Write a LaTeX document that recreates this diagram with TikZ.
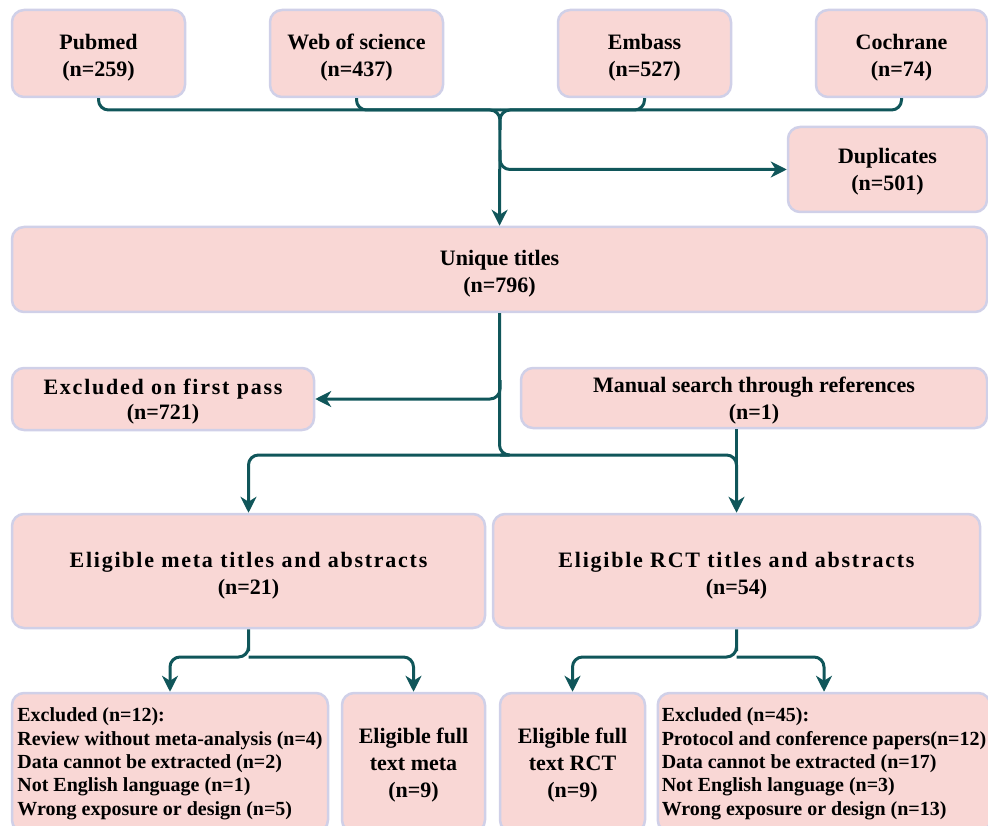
\documentclass[tikz,border=0pt]{standalone}
\usepackage{fontspec}
\setmainfont{Liberation Serif}
\newfontfamily\spacedfont{Liberation Serif}[LetterSpace=8]
\usepackage{tikz}
\usetikzlibrary{arrows.meta}
\definecolor{boxfill}{RGB}{249,215,213}
\definecolor{boxline}{RGB}{208,208,232}
\definecolor{flowline}{RGB}{16,86,90}
\newcommand{\toplift}{\rule{0pt}{19.5pt}}
\tikzstyle{pink box}=[
        draw = boxline,
        line width = 2.5pt,
        fill = boxfill,
        rounded corners = 12pt,
        align = center,
        inner sep = 3pt,
        text depth = 0pt,
        font = \fontsize{22}{27}\selectfont\bfseries
    ]
\tikzstyle{list box}=[
    pink box,
    align = left,
    inner xsep = 4pt,
    text depth = 2pt,
    font = \fontsize{20}{23.4}\selectfont\bfseries
]
\tikzstyle{flow}=[
    draw = flowline,
    line width = 3pt,
    rounded corners = 10pt
]

\begin{document}
\begin{tikzpicture}[x=1pt, y=-1pt, arrow/.style = {flow, -{Stealth[length=16pt,width=16pt,inset=5pt]}}]
        \useasboundingbox (0,0) rectangle (988,826);
        \node[pink box, minimum width=173pt, minimum height=87pt] (pubmed) at (98.5,53.5) {\toplift Pubmed\\(n=259)};
        \node[pink box, minimum width=173pt, minimum height=87pt] (wos) at (356.5,53.5) {\toplift Web of science\\(n=437)};
        \node[pink box, minimum width=173pt, minimum height=87pt] (embass) at (644.5,53.5) {\toplift Embass\\(n=527)};
        \node[pink box, minimum width=171pt, minimum height=87pt] (cochrane) at (901.5,53.5) {\toplift Cochrane\\(n=74)};
        \node[pink box, minimum width=199pt, minimum height=85pt] (dup) at (887.5,169.5) {Duplicates\\(n=501)};
        \node[pink box, minimum width=975pt, minimum height=85pt] (unique) at (499.5,269.5) {\toplift Unique titles\\(n=796)};
        \node[pink box, minimum width=302pt, minimum height=62pt] (excl) at (163,399) {{\spacedfont\bfseries Excluded on first pass}\\[-2pt](n=721)};
        \node[pink box, minimum width=466pt, minimum height=60pt] (manual) at (754,398) {Manual search through references\\(n=1)};
        \node[pink box, minimum width=473pt, minimum height=114pt] (meta) at (248.5,571) {\toplift{\spacedfont\bfseries Eligible meta titles and abstracts}\\(n=21)};
        \node[pink box, minimum width=487pt, minimum height=114pt] (rct) at (736.5,571) {\toplift{\spacedfont\bfseries Eligible RCT titles and abstracts}\\(n=54)};
        \node[list box, minimum width=316pt, minimum height=139pt] (exmeta) at (170,762.5) {Excluded (n=12):\\Review without meta-analysis (n=4)\\Data cannot be extracted (n=2)\\Not English language (n=1)\\Wrong exposure or design (n=5)};
        \node[pink box, minimum width=143pt, minimum height=139pt] (fullmeta) at (413.5,762.5) {Eligible full\\text meta\\(n=9)};
        \node[pink box, minimum width=145pt, minimum height=139pt] (fullrct) at (572.5,762.5) {Eligible full\\text RCT\\(n=9)};
        \node[list box, minimum width=332pt, minimum height=139pt] (exrct) at (824,762.5) {Excluded (n=45):\\Protocol and conference papers(n=12)\\Data cannot be extracted (n=17)\\Not English language (n=3)\\Wrong exposure or design (n=13)};

        \coordinate (join) at (500,110);
        \coordinate (dupfork) at (500,150);
        \coordinate (exclfork) at (500,380);
        \coordinate (split) at (500,455);
        \coordinate (metafork) at (248.5,657);
        \coordinate (rctfork) at (736.5,657);

        \draw[flow] (wos.south) |- (join);
        \draw[flow] (embass.south) |- (join);
        \draw[flow] (cochrane.south) |- (join) -- ++(0,20);
        \draw[arrow] (pubmed.south) |- (join) -- (unique.north);
        \draw[arrow] (dupfork) |- (dup.west);

        \draw[arrow] (exclfork) |- (excl.east);
        \draw[arrow] (unique.south) |- (split) -| (meta.north);
        \draw[arrow] (split) -| (rct.north);
        \draw[flow] (manual.south -| rct.north) -- ++(0,60);

        \draw[arrow] (meta.south) |- (metafork) -| (exmeta.north);
        \draw[arrow] (metafork) -| (fullmeta.north);
        \draw[arrow] (rct.south) |- (rctfork) -| (fullrct.north);
        \draw[arrow] (rctfork) -| (exrct.north);

    \end{tikzpicture}
\end{document}
